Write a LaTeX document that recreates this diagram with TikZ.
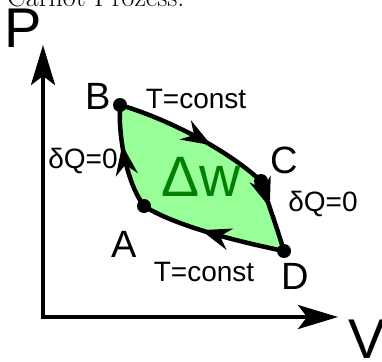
\documentclass[tikz,border=0pt]{standalone}
\usepackage{fontspec}
\newfontfamily\lsans{Liberation Sans}
\usetikzlibrary{arrows.meta,decorations.markings}
\definecolor{lensfill}{RGB}{153,255,153}
\definecolor{dwgreen}{RGB}{0,128,0}
\begin{document}
\begin{tikzpicture}[x=1pt,y=-1pt,
  axisline/.style={line width=4pt, line join=miter,
    {Stealth[length=40pt,width=24pt,inset=9pt]}-{Stealth[length=40pt,width=24pt,inset=9pt]}},
  pathline/.style={line width=4.5pt, line cap=round},
  dot/.style={circle, fill=black, inner sep=0pt, minimum size=14pt},
  lbl/.style={font=\lsans\fontsize{28}{30}\selectfont, inner sep=0pt},
  ptlbl/.style={font=\lsans\fontsize{38}{40}\selectfont, inner sep=0pt},
  axlbl/.style={font=\lsans\fontsize{56}{60}\selectfont, inner sep=0pt},
  midarrow/.style={postaction={decorate}, decoration={markings,
    mark=at position #1 with {\arrow{Stealth[length=30pt,width=22pt,inset=10pt]}}}}
]
\useasboundingbox (0,0) rectangle (382,361);

% title (cut at top edge)
\node[anchor=base west, inner sep=0pt, font=\fontsize{28}{30}\selectfont] (title) at (7,6.5) {Carnot Prozess:};

% axes
\coordinate (Ptip) at (43,45);
\coordinate (Vtip) at (338,317);
\draw[axisline] (Ptip) |- (Vtip);
\node[axlbl] (Plbl) at (23,28) {P};
\node[axlbl] (Vlbl) at (367,339) {V};

% cycle points
\coordinate (B) at (120,105);
\coordinate (C) at (261,181);
\coordinate (D) at (284,251);
\coordinate (A) at (144,206);

% area
\fill[lensfill] (B) .. controls (165,118) and (225,148) .. (C)
  .. controls (268,203) and (277,228) .. (D)
  .. controls (240,242) and (175,226) .. (A)
  .. controls (128,185) and (118,140) .. (B);

% process lines
\draw[pathline, midarrow=0.62] (B) .. controls (165,118) and (225,148) .. (C);
\draw[pathline, midarrow=0.38] (C) .. controls (268,203) and (277,228) .. (D);
\draw[pathline, midarrow=0.58] (D) .. controls (240,242) and (175,226) .. (A);
\draw[pathline, midarrow=0.62] (A) .. controls (128,185) and (118,140) .. (B);

% dots
\node[dot] (Bdot) at (B) {};
\node[dot] (Cdot) at (C) {};
\node[dot] (Ddot) at (D) {};
\node[dot] (Adot) at (A) {};

% labels
\node[ptlbl] (Blbl) at (98.5,96.5) {B};
\node[ptlbl] (Clbl) at (284,160) {C};
\node[ptlbl] (Albl) at (124,244) {A};
\node[ptlbl] (Dlbl) at (295,276) {D};
\node[lbl] (Ttop) at (196,99) {T=const};
\node[lbl] (Tbot) at (204,272) {T=const};
\node[lbl] (Qleft) at (83,161) {δQ=0};
\node[lbl] (Qright) at (323,204) {δQ=0};
\node[font=\lsans\fontsize{57}{60}\selectfont, text=dwgreen, inner sep=0pt] (dw) at (201,177) {Δw};
\end{tikzpicture}
\end{document}
